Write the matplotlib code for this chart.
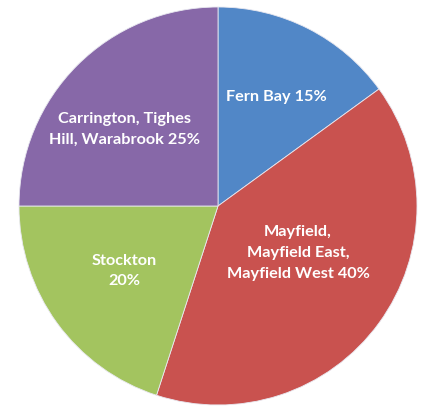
import matplotlib.pyplot as plt

suburbs = ["Fern Bay", "Mayfield,\nMayfield East,\nMayfield West", "Stockton",
           "Carrington, Tighes\nHill, Warabrook"]
shares = [15, 40, 20, 25]
colors = ["#5187C7", "#C9524F", "#A3C45F", "#8768A8"]

# label text for each slice (Excel style "Name NN%")
labels = ["Fern Bay 15%", "Mayfield,\nMayfield East,\nMayfield West 40%",
          "Stockton\n20%", "Carrington, Tighes\nHill, Warabrook 25%"]
# label centres, offset from pie centre in pixels
label_pos = [(58, 109), (80, -47), (-94, -65), (-93, 77)]

fig = plt.figure(figsize=(4.25, 4.08), dpi=100)
ax = fig.add_axes([0, 0, 1, 1])

cx, cy = 218, 202
ax.pie(shares, colors=colors, startangle=90, counterclock=False,
       radius=199, center=(cx, cy), frame=True,
       wedgeprops=dict(linewidth=0.6, edgecolor="#e8e8f0"))
ax.set_xlim(0, 425)
ax.set_ylim(0, 408)
ax.set_aspect("equal")
ax.axis("off")

for lab, (dx, dy) in zip(labels, label_pos):
    ax.text(cx + dx, cy + dy, lab, ha="center", va="center", color="white",
            fontsize=11.7, fontweight="bold", family="Lato", linespacing=1.6)

fig.savefig("out.png", dpi=100)
